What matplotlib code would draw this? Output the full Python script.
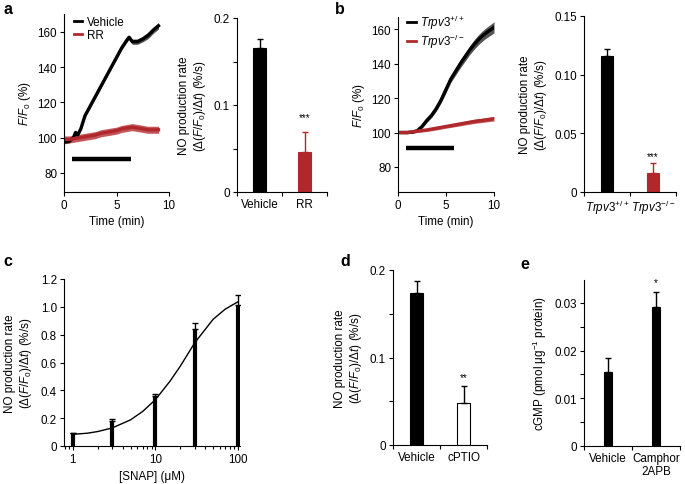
import matplotlib
matplotlib.use("Agg")
import matplotlib.pyplot as plt
from matplotlib.ticker import FixedLocator, NullFormatter
import numpy as np

plt.rcParams['font.family'] = ['Liberation Sans', 'DejaVu Sans']
plt.rcParams['mathtext.fontset'] = 'custom'
plt.rcParams['mathtext.rm'] = 'Liberation Sans'
plt.rcParams['mathtext.it'] = 'Liberation Sans:italic'
plt.rcParams['font.size'] = 8.4
plt.rcParams['axes.linewidth'] = 0.8

RED = "#b0282c"
W, H = 685, 485
FS = 8.4

# ---- data ----
# a: time course (min, F/F0 %)
a_t_veh = [0, 0.5, 0.9, 1.1, 1.3, 1.6, 2, 2.5, 3, 3.5, 4, 4.5, 5, 5.5, 6, 6.2, 6.5, 7, 7.5, 8, 8.5, 9]
a_veh = [97.5, 98, 100, 103, 101.5, 105, 112.5, 118, 123.5, 129, 134.5, 140, 145.5, 151, 155.5, 157,
         154.5, 154.5, 156, 158, 161, 163.5]
a_veh_sem = [1.0, 1.0, 1.0, 1.2, 1.2, 1.0, 1.0, 1.0, 1.0, 1.0, 1.0, 1.0, 1.0, 1.0, 1.2, 1.2,
             1.5, 1.5, 1.6, 1.8, 1.8, 1.8]
a_t_rr = [0, 0.5, 1, 1.5, 2, 2.5, 3, 3.5, 4, 4.5, 5, 5.5, 6, 6.5, 7, 7.5, 8, 8.5, 9]
a_rr = [99, 99, 99.5, 100, 100.5, 101, 101.5, 102.5, 103, 103.5, 104, 105, 105.5, 106, 105.5, 105,
        104.5, 104.5, 104.5]
a_rr_sem = [2.0] * len(a_rr)
a_stim = (0.8, 6.4, 88)

# a: bars
a_labels = ["Vehicle", "RR"]
a_vals = [0.166, 0.046]
a_errs = [0.010, 0.023]

# b: time course
b_t_wt = [0, 0.5, 1, 1.5, 2, 2.5, 3, 3.5, 4, 4.5, 5, 5.5, 6, 6.5, 7, 7.5, 8, 8.5, 9, 9.5, 10]
b_wt = [100, 100, 100, 100.3, 101, 103.5, 107, 110, 114, 119, 125, 131, 135.5, 140, 144, 148,
        151.5, 154.5, 157, 159, 161]
b_wt_sem = [0.6, 0.6, 0.6, 0.7, 0.8, 1.0, 1.2, 1.3, 1.5, 1.7, 1.9, 2.0, 2.2, 2.4, 2.5, 2.6,
            2.8, 2.9, 3.0, 3.1, 3.2]
b_t_ko = [0, 1, 2, 3, 4, 5, 6, 7, 8, 9, 10]
b_ko = [100, 100, 100.8, 101.5, 102.5, 103.5, 104.5, 105.5, 106.5, 107.2, 108]
b_ko_sem = [0.6, 0.7, 0.8, 0.9, 1.0, 1.0, 1.1, 1.1, 1.2, 1.2, 1.3]
b_stim = (0.8, 5.8, 91)

# b: bars
b_labels = [r"$\mathit{Trpv3}^{+/+}$", r"$\mathit{Trpv3}^{-/-}$"]
b_vals = [0.116, 0.016]
b_errs = [0.006, 0.009]

# c: SNAP dose response
c_conc = [1, 3, 10, 30, 100]
c_vals = [0.092, 0.183, 0.361, 0.843, 1.012]
c_errs = [0.004, 0.008, 0.012, 0.040, 0.072]
c_fit_x = [1, 1.5, 2, 3, 5, 7, 10, 15, 20, 30, 50, 70, 100]
c_fit_y = [0.084, 0.092, 0.104, 0.13, 0.188, 0.248, 0.333, 0.465, 0.573, 0.742, 0.91, 0.983, 1.036]

# d: cPTIO
d_labels = ["Vehicle", "cPTIO"]
d_vals = [0.174, 0.048]
d_errs = [0.013, 0.020]

# e: cGMP
e_labels = ["Vehicle", "Camphor\n2APB"]
e_vals = [0.0155, 0.0291]
e_errs = [0.0029, 0.0032]

NO_LABEL = "NO production rate\n(Δ($F$/$F_0$)/Δ$t$) (%/s)"

fig = plt.figure(figsize=(6.85, 4.85), dpi=100)


def add_ax(l, t, r, b):
    ax = fig.add_axes([l / W, 1 - b / H, (r - l) / W, (b - t) / H])
    ax.spines['top'].set_visible(False)
    ax.spines['right'].set_visible(False)
    ax.tick_params(direction='out', length=3, width=0.8, labelsize=FS, pad=2)
    ax.tick_params(which='minor', direction='out', length=3, width=0.8)
    return ax


def trace(ax, t, m, s, color, band, label):
    m, s = np.array(m), np.array(s)
    ax.fill_between(t, m - s, m + s, color=band, lw=0)
    ax.plot(t, m, color=color, lw=2.4, label=label)


def bar_panel(ax, labels, vals, errs, colors, width, ylim, yticks, yminor, ylabels, stars, star_y,
              face=None):
    x = np.arange(len(vals)) + 0.5
    face = face or colors
    ax.bar(x, vals, width=width, color=face, edgecolor=colors, linewidth=0.8, zorder=2)
    for xi, v, e, c in zip(x, vals, errs, colors):
        ax.errorbar(xi, v, yerr=[[0], [e]], fmt='none', ecolor=c, elinewidth=1.0, capsize=2.5,
                    capthick=1.0, zorder=3)
    ax.set_xlim(0, len(vals))
    ax.set_ylim(*ylim)
    ax.set_xticks(range(len(vals) + 1))
    ax.set_xticklabels([])
    ax.set_xticks(x, minor=True)
    ax.set_xticklabels(labels, minor=True)
    ax.tick_params(axis='x', which='minor', length=0, pad=4)
    ax.set_yticks(yticks)
    ax.set_yticklabels(ylabels)
    ax.yaxis.set_minor_locator(FixedLocator(yminor))
    ax.yaxis.set_minor_formatter(NullFormatter())
    ax.text(x[1], star_y, stars, ha='center', va='center', fontsize=7)


def legend(ax, y):
    leg = ax.legend(loc='upper left', bbox_to_anchor=(0.05, y), frameon=False, handlelength=0.7,
                    handletextpad=0.4, labelspacing=0.1, borderaxespad=0, fontsize=FS)
    for h in leg.get_lines():
        h.set_linewidth(2.0)


# ---- a ----
ax = add_ax(64, 15, 169, 193)
trace(ax, a_t_veh, a_veh, a_veh_sem, 'black', '#555555', 'Vehicle')
trace(ax, a_t_rr, a_rr, a_rr_sem, RED, '#c4575a', 'RR')
ax.plot(a_stim[:2], [a_stim[2]] * 2, color='black', lw=3.2, solid_capstyle='butt')
ax.set_xlim(0, 10)
ax.set_ylim(69.2, 170.2)
ax.set_xticks([0, 5, 10])
ax.set_yticks([80, 100, 120, 140, 160])
ax.set_xlabel("Time (min)", labelpad=3)
ax.set_ylabel("$F$/$F_0$ (%)", labelpad=3)
legend(ax, 1.015)

ax = add_ax(237, 19, 327, 193)
bar_panel(ax, a_labels, a_vals, a_errs, ['black', RED], 0.27, (0, 0.2), [0, 0.1, 0.2],
          [0.05, 0.15], ["0", "0.1", "0.2"], "***", 0.086)
ax.set_ylabel(NO_LABEL, labelpad=4)

# ---- b ----
ax = add_ax(398, 18, 494, 193)
trace(ax, b_t_wt, b_wt, b_wt_sem, 'black', '#555555', b_labels[0])
trace(ax, b_t_ko, b_ko, b_ko_sem, RED, '#c4575a', b_labels[1])
ax.plot(b_stim[:2], [b_stim[2]] * 2, color='black', lw=3.2, solid_capstyle='butt')
ax.set_xlim(0, 10)
ax.set_ylim(65.5, 167)
ax.set_xticks([0, 5, 10])
ax.set_yticks([80, 100, 120, 140, 160])
ax.set_xlabel("Time (min)", labelpad=3)
ax.set_ylabel("$F$/$F_0$ (%)", labelpad=3)
legend(ax, 1.05)

ax = add_ax(584, 17, 676, 193)
bar_panel(ax, b_labels, b_vals, b_errs, ['black', RED], 0.26, (0, 0.15), [0, 0.05, 0.10, 0.15],
          [], ["0", "0.05", "0.10", "0.15"], "***", 0.0307)
ax.set_ylabel(NO_LABEL, labelpad=4)

# ---- c ----
ax = add_ax(64, 280, 240, 447)
ax.set_xscale('log')
ax.vlines(c_conc, 0, c_vals, color='black', lw=3.0, zorder=2)
ax.errorbar(c_conc, c_vals, yerr=[np.zeros(len(c_vals)), c_errs], fmt='none', ecolor='black',
            elinewidth=1.0, capsize=2.5, capthick=1.0)
ax.plot(c_fit_x, c_fit_y, color='black', lw=1.0)
ax.set_xlim(0.78, 106)
ax.set_ylim(0, 1.2)
ax.set_xticks([1, 10, 100])
ax.set_xticklabels(["1", "10", "100"])
ax.tick_params(axis='x', which='minor', length=2)
ax.set_yticks([0, 0.2, 0.4, 0.6, 0.8, 1.0, 1.2])
ax.set_yticklabels(["0", "0.2", "0.4", "0.6", "0.8", "1.0", "1.2"])
ax.set_xlabel("[SNAP] (μM)", labelpad=4)
ax.set_ylabel(NO_LABEL, labelpad=5)

# ---- d ----
ax = add_ax(393, 271, 487, 446)
bar_panel(ax, d_labels, d_vals, d_errs, ['black', 'black'], 0.26, (0, 0.2), [0, 0.1, 0.2],
          [0.05, 0.15], ["0", "0.1", "0.2"], "**", 0.078, face=['black', 'white'])
ax.set_ylabel(NO_LABEL, labelpad=4)

# ---- e ----
ax = add_ax(584, 281, 680, 447)
bar_panel(ax, e_labels, e_vals, e_errs, ['black', 'black'], 0.16, (0, 0.0348),
          [0, 0.01, 0.02, 0.03], [0.005, 0.015, 0.025], ["0", "0.01", "0.02", "0.03"], "*", 0.0344)
ax.set_ylabel("cGMP (pmol μg$^{-1}$ protein)", labelpad=4)

# panel letters
for lab, px, py in [("a", 8, 10), ("b", 340, 10), ("c", 8, 262), ("d", 345, 262), ("e", 525, 265)]:
    fig.text(px / W, 1 - py / H, lab, fontsize=11.5, fontweight='bold', ha='center', va='center')

fig.savefig("out.png", dpi=100)
